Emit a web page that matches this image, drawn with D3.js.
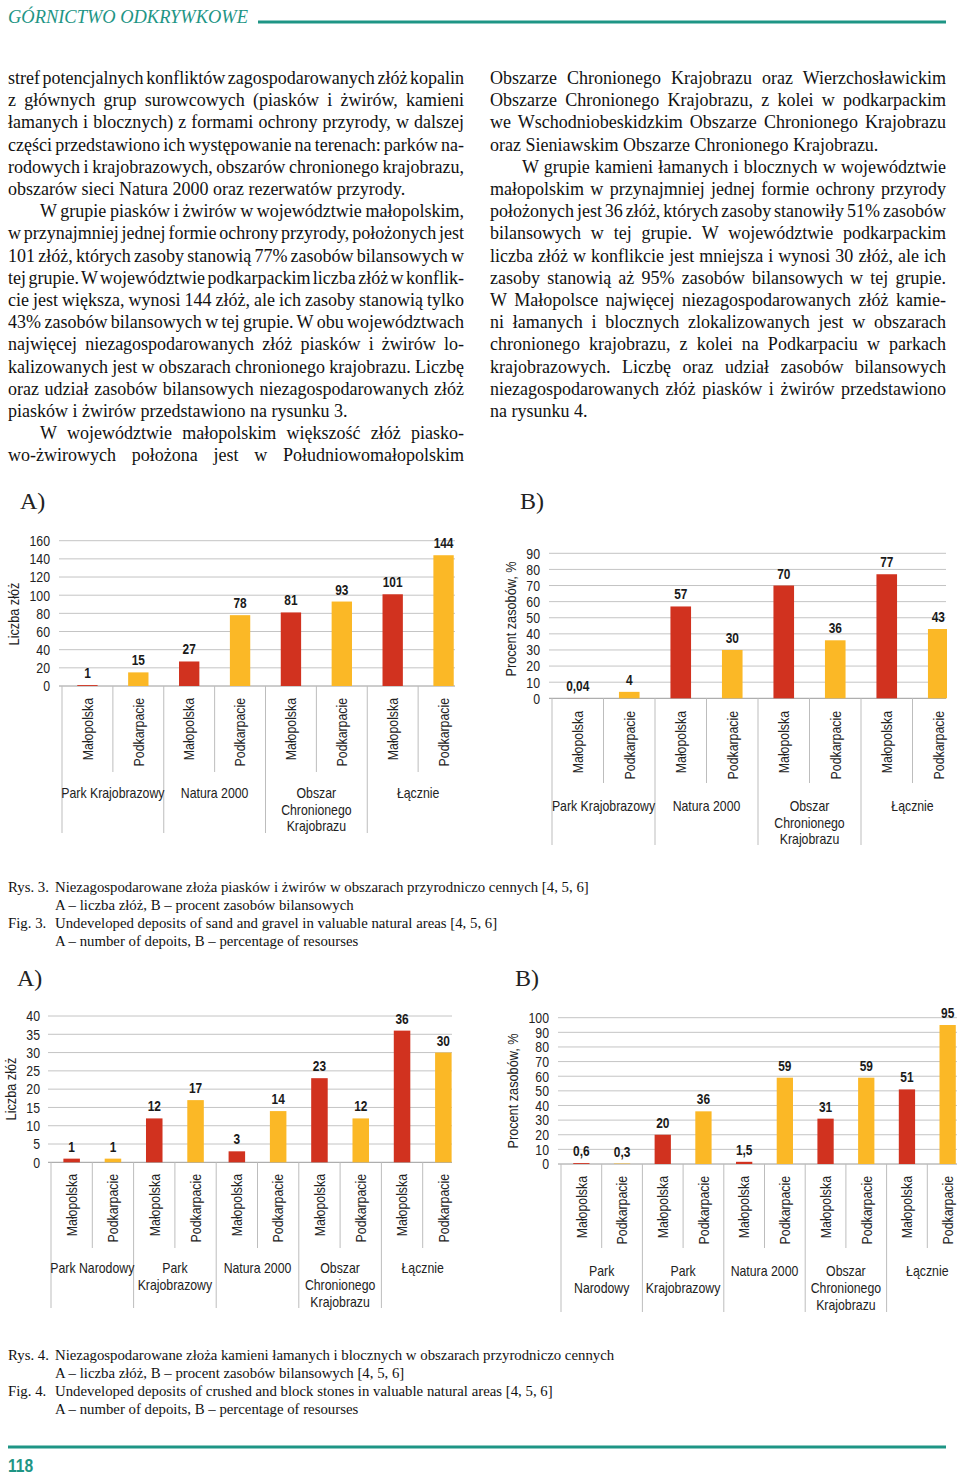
<!DOCTYPE html>
<html><head><meta charset="utf-8">
<script src="https://cdn.jsdelivr.net/npm/d3@7"></script>
<style>body{margin:0;background:#fff}svg{display:block}</style>
</head><body>
<script>
// ---------------- DATA ----------------
const regions = ["Małopolska", "Podkarpacie"];
const fig3Groups = ["Park Krajobrazowy", "Natura 2000", "Obszar\nChronionego\nKrajobrazu", "Łącznie"];
const fig3Count = [1, 15, 27, 78, 81, 93, 101, 144];
const fig3CountLabels = ["1", "15", "27", "78", "81", "93", "101", "144"];
const fig3Pct = [0.04, 4, 57, 30, 70, 36, 77, 43];
const fig3PctLabels = ["0,04", "4", "57", "30", "70", "36", "77", "43"];
const fig4GroupsA = ["Park Narodowy", "Park\nKrajobrazowy", "Natura 2000", "Obszar\nChronionego\nKrajobrazu", "Łącznie"];
const fig4GroupsB = ["Park\nNarodowy", "Park\nKrajobrazowy", "Natura 2000", "Obszar\nChronionego\nKrajobrazu", "Łącznie"];
const fig4Count = [1, 1, 12, 17, 3, 14, 23, 12, 36, 30];
const fig4CountLabels = ["1", "1", "12", "17", "3", "14", "23", "12", "36", "30"];
const fig4Pct = [0.6, 0.3, 20, 36, 1.5, 59, 31, 59, 51, 95];
const fig4PctLabels = ["0,6", "0,3", "20", "36", "1,5", "59", "31", "59", "51", "95"];
const ticks3A = [0, 20, 40, 60, 80, 100, 120, 140, 160];
const ticks3B = [0, 10, 20, 30, 40, 50, 60, 70, 80, 90];
const ticks4A = [0, 5, 10, 15, 20, 25, 30, 35, 40];
const ticks4B = [0, 10, 20, 30, 40, 50, 60, 70, 80, 90, 100];
const regionColors = ["#D1321F", "#FBB826"];

const leftCol = [
  ["stref potencjalnych konfliktów zagospodarowanych złóż kopalin", 0, 0],
  ["z głównych grup surowcowych (piasków i żwirów, kamieni", 0, 0],
  ["łamanych i blocznych) z formami ochrony przyrody, w dalszej", 0, 0],
  ["części przedstawiono ich występowanie na terenach: parków na-", 0, 0],
  ["rodowych i krajobrazowych, obszarów chronionego krajobrazu,", 0, 0],
  ["obszarów sieci Natura 2000 oraz rezerwatów przyrody.", 0, 1],
  ["W grupie piasków i żwirów w województwie małopolskim,", 1, 0],
  ["w przynajmniej jednej formie ochrony przyrody, położonych jest", 0, 0],
  ["101 złóż, których zasoby stanowią 77% zasobów bilansowych w", 0, 0],
  ["tej grupie. W województwie podkarpackim liczba złóż w konflik-", 0, 0],
  ["cie jest większa, wynosi 144 złóż, ale ich zasoby stanowią tylko", 0, 0],
  ["43% zasobów bilansowych w tej grupie. W obu województwach", 0, 0],
  ["najwięcej niezagospodarowanych złóż piasków i żwirów lo-", 0, 0],
  ["kalizowanych jest w obszarach chronionego krajobrazu. Liczbę", 0, 0],
  ["oraz udział zasobów bilansowych niezagospodarowanych złóż", 0, 0],
  ["piasków i żwirów przedstawiono na rysunku 3.", 0, 1],
  ["W województwie małopolskim większość złóż piasko-", 1, 0],
  ["wo-żwirowych położona jest w Południowomałopolskim", 0, 0]
];
const rightCol = [
  ["Obszarze Chronionego Krajobrazu oraz Wierzchosławickim", 0, 0],
  ["Obszarze Chronionego Krajobrazu, z kolei w podkarpackim", 0, 0],
  ["we Wschodniobeskidzkim Obszarze Chronionego Krajobrazu", 0, 0],
  ["oraz Sieniawskim Obszarze Chronionego Krajobrazu.", 0, 1],
  ["W grupie kamieni łamanych i blocznych w województwie", 1, 0],
  ["małopolskim w przynajmniej jednej formie ochrony przyrody", 0, 0],
  ["położonych jest 36 złóż, których zasoby stanowiły 51% zasobów", 0, 0],
  ["bilansowych w tej grupie. W województwie podkarpackim", 0, 0],
  ["liczba złóż w konflikcie jest mniejsza i wynosi 30 złóż, ale ich", 0, 0],
  ["zasoby stanowią aż 95% zasobów bilansowych w tej grupie.", 0, 0],
  ["W Małopolsce najwięcej niezagospodarowanych złóż kamie-", 0, 0],
  ["ni łamanych i blocznych zlokalizowanych jest w obszarach", 0, 0],
  ["chronionego krajobrazu, z kolei na Podkarpaciu w parkach", 0, 0],
  ["krajobrazowych. Liczbę oraz udział zasobów bilansowych", 0, 0],
  ["niezagospodarowanych złóż piasków i żwirów przedstawiono", 0, 0],
  ["na rysunku 4.", 0, 1]
];
const caption3 = [
  ["Rys. 3.", "Niezagospodarowane złoża piasków i żwirów w obszarach przyrodniczo cennych [4, 5, 6]"],
  ["", "A – liczba złóż, B – procent zasobów bilansowych"],
  ["Fig. 3.", "Undeveloped deposits of sand and gravel in valuable natural areas [4, 5, 6]"],
  ["", "A – number of depoits, B – percentage of resourses"]
];
const caption4 = [
  ["Rys. 4.", "Niezagospodarowane złoża kamieni łamanych i blocznych w obszarach przyrodniczo cennych"],
  ["", "A – liczba złóż, B – procent zasobów bilansowych [4, 5, 6]"],
  ["Fig. 4.", "Undeveloped deposits of crushed and block stones in valuable natural areas [4, 5, 6]"],
  ["", "A – number of depoits, B – percentage of resourses"]
];

// ---------------- DRAW ----------------
const W = 960, H = 1479;
const TEAL = "#1E9585";
const SERIF = '"Liberation Serif","Times New Roman",serif';
const SANS = '"Liberation Sans",Arial,sans-serif';
const NARROW_K = 0.82; // emulate Arial Narrow by condensing Arial-metric glyphs
const svg = d3.select("body").append("svg").attr("width", W).attr("height", H);

function narrow(sel) {
  sel.each(function () {
    const w = this.getComputedTextLength();
    if (w > 0) d3.select(this).attr("textLength", w * NARROW_K).attr("lengthAdjust", "spacingAndGlyphs");
  });
  return sel;
}

// header
svg.append("text").attr("x", 8).attr("y", 23).attr("font-family", SERIF)
  .attr("font-style", "italic").attr("font-size", 18).attr("fill", TEAL)
  .attr("textLength", 240).attr("lengthAdjust", "spacingAndGlyphs").text("GÓRNICTWO ODKRYWKOWE");
svg.append("line").attr("x1", 258).attr("x2", 946).attr("y1", 22).attr("y2", 22)
  .attr("stroke", TEAL).attr("stroke-width", 3.2);

// body text
function column(lines, x0, width, y0, lh) {
  const g = svg.append("g").attr("font-family", SERIF).attr("font-size", 18).attr("fill", "#111");
  lines.forEach((l, i) => {
    const ind = l[1] ? 32 : 0;
    const t = g.append("text").attr("x", x0 + ind).attr("y", y0 + i * lh).text(l[0]);
    if (!l[2]) {
      const nat = t.node().getComputedTextLength();
      const spaces = (l[0].match(/ /g) || []).length;
      const target = width - ind;
      if (spaces > 0) t.attr("word-spacing", (target - nat) / spaces);
    }
  });
}
column(leftCol, 8, 456, 84, 22.2);
column(rightCol, 490, 456, 84, 22.2);

// panel labels
[["A)", 20, 509], ["B)", 520, 509], ["A)", 17, 986], ["B)", 515, 986]].forEach(p => {
  svg.append("text").attr("x", p[1]).attr("y", p[2]).attr("font-family", SERIF)
    .attr("font-size", 24).attr("fill", "#222").text(p[0]);
});

function drawChart(c) {
  const g = svg.append("g").attr("font-family", SANS).attr("fill", "#111");
  const n = c.values.length;
  const y = d3.scaleLinear().domain([0, c.max]).range([c.yBottom, c.yTop]);
  const x = d3.scaleBand().domain(d3.range(n)).range([c.x0, c.x1]).paddingInner(0).paddingOuter(0);
  const bw = x.bandwidth() * 0.4;
  const id = "clip" + Math.round(c.x0) + Math.round(c.yTop);
  svg.append("clipPath").attr("id", id).append("rect")
    .attr("x", 0).attr("y", 0).attr("width", c.gridEnd + 1).attr("height", H);

  // gridlines
  g.append("g").selectAll("line").data(c.ticks).join("line")
    .attr("x1", c.x0 - 3).attr("x2", c.gridEnd)
    .attr("y1", d => y(d)).attr("y2", d => y(d))
    .attr("stroke", d => d === 0 ? "#9a9a9a" : "#c4c4c4").attr("stroke-width", 1);
  // y axis tick labels
  const ax = d3.axisLeft(y).tickValues(c.ticks).tickSize(0).tickPadding(0).tickFormat(d3.format("d"));
  const axg = g.append("g").attr("transform", `translate(${c.tickX},0)`).call(ax);
  axg.select(".domain").remove();
  narrow(axg.selectAll("text").attr("font-family", SANS).attr("font-size", 15).attr("fill", "#222"));
  // y label
  narrow(g.append("text").attr("transform", `translate(${c.yLabelX},${c.yLabelY}) rotate(-90)`)
    .attr("text-anchor", "middle").attr("dy", "0.35em").attr("font-size", 15.5).attr("fill", "#222").text(c.yLabel));

  // bars
  g.append("g").attr("clip-path", `url(#${id})`).selectAll("rect").data(c.values).join("rect")
    .attr("x", (d, i) => x(i) + x.bandwidth() / 2 - bw / 2).attr("width", bw)
    .attr("y", d => y(d)).attr("height", d => y(0) - y(d))
    .attr("fill", (d, i) => regionColors[i % 2]);
  // value labels
  narrow(g.append("g").selectAll("text").data(c.values).join("text")
    .attr("x", (d, i) => x(i) + x.bandwidth() / 2).attr("y", d => y(d) - 7)
    .attr("text-anchor", "middle").attr("font-weight", "bold").attr("font-size", 14.5).attr("fill", "#1a1a1a")
    .text((d, i) => c.labels[i]));

  // category separators
  const sepG = g.append("g").attr("stroke", "#bdbdbd").attr("stroke-width", 1);
  d3.range(n).forEach(i => {
    const xx = x(i);
    const isGroup = i % 2 === 0;
    sepG.append("line").attr("x1", xx).attr("x2", xx).attr("y1", c.yBottom)
      .attr("y2", isGroup ? c.groupSepEnd : c.smallSepEnd);
  });
  // rotated region labels
  narrow(g.append("g").selectAll("text").data(d3.range(n)).join("text")
    .attr("transform", i => `translate(${x(i) + x.bandwidth() / 2},${c.rotTop}) rotate(-90)`)
    .attr("text-anchor", "end").attr("dy", "0.35em").attr("font-size", 15).attr("fill", "#222")
    .text(i => regions[i % 2]));
  // group labels
  c.groups.forEach((gl, gi) => {
    const cx = (x(gi * 2) + x(gi * 2 + 1) + x.bandwidth()) / 2;
    gl.split("\n").forEach((ln, li) => {
      narrow(g.append("text").attr("text-anchor", "middle").attr("font-size", 15).attr("fill", "#222")
        .attr("x", cx).attr("y", c.groupY + li * c.groupLH).attr("dy", "0.35em").text(ln));
    });
  });
}

drawChart({ values: fig3Count, labels: fig3CountLabels, groups: fig3Groups, ticks: ticks3A, max: 160,
  x0: 62, x1: 469, gridEnd: 455, yTop: 540.7, yBottom: 686, tickX: 50, yLabel: "Liczba złóż", yLabelX: 14, yLabelY: 614,
  rotTop: 698, smallSepEnd: 772, groupSepEnd: 833, groupY: 793, groupLH: 16.5 });
drawChart({ values: fig3Pct, labels: fig3PctLabels, groups: fig3Groups, ticks: ticks3B, max: 90,
  x0: 552, x1: 964, gridEnd: 946, yTop: 553.3, yBottom: 698.3, tickX: 540, yLabel: "Procent zasobów, %", yLabelX: 511, yLabelY: 619,
  rotTop: 711, smallSepEnd: 783, groupSepEnd: 845, groupY: 806, groupLH: 16.5 });
drawChart({ values: fig4Count, labels: fig4CountLabels, groups: fig4GroupsA, ticks: ticks4A, max: 40,
  x0: 51, x1: 464, gridEnd: 452, yTop: 1016, yBottom: 1162.3, tickX: 40, yLabel: "Liczba złóż", yLabelX: 11, yLabelY: 1089,
  rotTop: 1174, smallSepEnd: 1248, groupSepEnd: 1308, groupY: 1268, groupLH: 17 });
drawChart({ values: fig4Pct, labels: fig4PctLabels, groups: fig4GroupsB, ticks: ticks4B, max: 100,
  x0: 561, x1: 968, gridEnd: 957, yTop: 1017.7, yBottom: 1164, tickX: 549, yLabel: "Procent zasobów, %", yLabelX: 513, yLabelY: 1091,
  rotTop: 1176, smallSepEnd: 1248, groupSepEnd: 1312, groupY: 1271, groupLH: 17 });

// captions
function caption(lines, y0) {
  const g = svg.append("g").attr("font-family", SERIF).attr("font-size", 14.8).attr("fill", "#111");
  lines.forEach((l, i) => {
    if (l[0]) g.append("text").attr("x", 8).attr("y", y0 + i * 18).text(l[0]);
    g.append("text").attr("x", 55).attr("y", y0 + i * 18).text(l[1]);
  });
}
caption(caption3, 892);
caption(caption4, 1360);

// footer
svg.append("line").attr("x1", 8).attr("x2", 946).attr("y1", 1447).attr("y2", 1447)
  .attr("stroke", TEAL).attr("stroke-width", 3);
narrow(svg.append("text").attr("x", 8).attr("y", 1472).attr("font-family", SANS).attr("font-weight", "bold")
  .attr("font-size", 19).attr("fill", TEAL).text("118"));
</script>
</body></html>
